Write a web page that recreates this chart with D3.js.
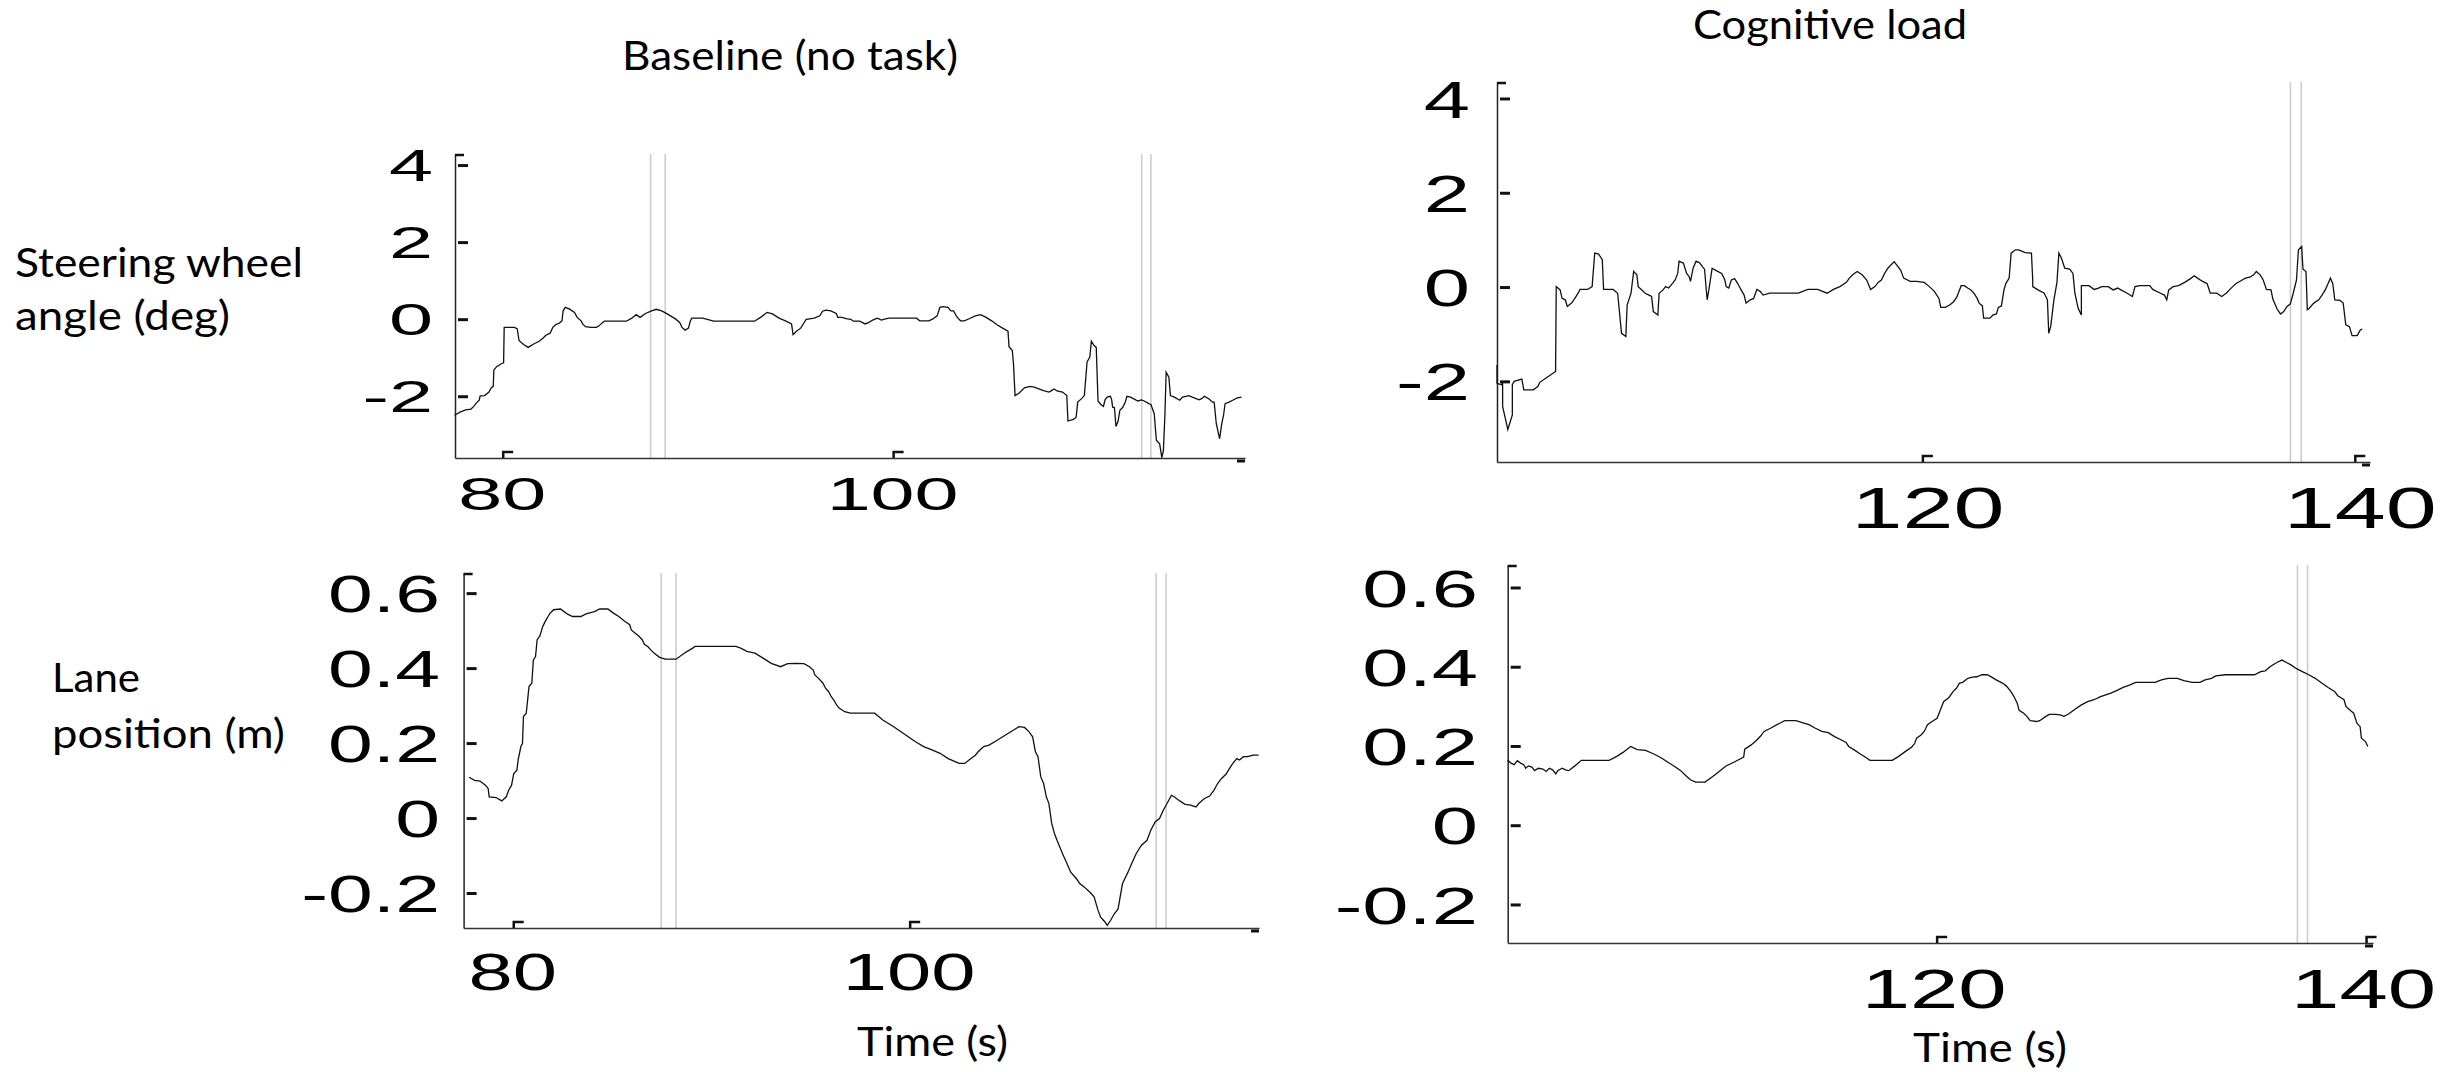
<!DOCTYPE html>
<html><head><meta charset="utf-8">
<script src="https://cdn.jsdelivr.net/npm/d3@7"></script>
<style>html,body{margin:0;padding:0;background:#fff;overflow:hidden}</style>
</head><body>
<svg id="chart" width="2453" height="1072" xmlns="http://www.w3.org/2000/svg"></svg>
<script>
// ---------------- DATA ----------------
const steerTicks = [-2, 0, 2, 4];
const laneTicks = [-0.2, 0, 0.2, 0.4, 0.6];
const timeTicksBaseline = [80, 100];
const timeTicksCognitive = [120, 140];

const markersSteerBaseline = [87.55, 88.3, 112.71, 113.18];
const markersLaneBaseline = [87.44, 88.19, 112.41, 112.91];
const markersSteerCognitive = [137.0, 137.5];
const markersLaneCognitive = [136.78, 137.25];

const steerBaseline = [[77.51,-2.48],[77.79,-2.40],[78.07,-2.34],[78.35,-2.32],[78.49,-2.25],[78.63,-2.16],[78.77,-2.09],[78.82,-1.98],[79.05,-1.97],[79.27,-1.88],[79.38,-1.77],[79.49,-1.73],[79.52,-1.31],[79.66,-1.22],[79.88,-1.15],[80.02,-1.12],[80.05,-0.20],[80.36,-0.20],[80.58,-0.20],[80.72,-0.24],[80.81,-0.54],[81.06,-0.65],[81.28,-0.72],[81.56,-0.63],[81.84,-0.56],[82.06,-0.47],[82.17,-0.41],[82.40,-0.35],[82.54,-0.20],[82.68,-0.13],[82.87,-0.09],[83.01,-0.03],[83.07,0.23],[83.18,0.32],[83.38,0.28],[83.65,0.19],[83.79,0.06],[83.99,-0.03],[84.07,-0.11],[84.21,-0.18],[84.49,-0.20],[84.77,-0.20],[84.91,-0.16],[85.05,-0.09],[85.19,-0.04],[85.75,-0.04],[86.31,-0.04],[86.59,0.04],[86.81,0.13],[87.01,0.06],[87.29,0.16],[87.57,0.22],[87.84,0.27],[88.12,0.23],[88.40,0.15],[88.82,0.02],[89.04,-0.07],[89.16,-0.20],[89.32,-0.27],[89.49,-0.22],[89.58,-0.04],[89.66,0.04],[90.22,0.04],[90.78,-0.04],[91.90,-0.04],[92.87,-0.04],[93.24,0.08],[93.52,0.19],[93.79,0.15],[94.13,0.04],[94.46,-0.03],[94.77,-0.11],[94.85,-0.39],[95.02,-0.30],[95.24,-0.22],[95.41,-0.08],[95.52,0.01],[95.94,0.04],[96.22,0.10],[96.36,0.22],[96.53,0.25],[96.78,0.23],[97.06,0.16],[97.14,0.06],[97.34,0.06],[97.62,0.02],[97.81,0.01],[97.93,-0.04],[98.26,-0.04],[98.54,-0.11],[98.74,-0.07],[98.93,-0.01],[99.16,0.04],[99.38,-0.01],[99.58,0.02],[99.77,0.04],[101.17,0.04],[101.34,-0.03],[101.81,-0.03],[102.01,0.02],[102.23,0.10],[102.37,0.32],[102.51,0.34],[102.79,0.32],[102.93,0.23],[103.07,0.23],[103.21,0.10],[103.35,0.01],[103.43,-0.03],[103.62,-0.03],[103.90,0.03],[104.18,0.10],[104.46,0.13],[104.74,0.06],[105.02,-0.03],[105.30,-0.13],[105.58,-0.22],[105.86,-0.30],[105.91,-0.70],[106.08,-0.80],[106.14,-1.15],[106.22,-1.97],[106.42,-1.91],[106.70,-1.77],[106.98,-1.73],[107.20,-1.75],[107.40,-1.79],[107.68,-1.84],[107.96,-1.88],[108.09,-1.84],[108.23,-1.80],[108.37,-1.85],[108.65,-1.88],[108.87,-1.97],[108.93,-2.63],[109.21,-2.59],[109.35,-2.53],[109.43,-2.14],[109.63,-2.05],[109.77,-1.97],[109.91,-1.10],[110.05,-0.97],[110.13,-0.56],[110.27,-0.67],[110.38,-0.72],[110.47,-2.11],[110.61,-2.20],[110.75,-2.25],[110.83,-2.08],[110.94,-2.01],[111.11,-1.99],[111.17,-2.08],[111.22,-2.27],[111.31,-2.28],[111.39,-2.77],[111.50,-2.63],[111.59,-2.35],[111.73,-2.28],[111.87,-2.14],[111.95,-1.99],[112.14,-2.01],[112.28,-2.05],[112.51,-2.11],[112.70,-2.08],[112.84,-2.11],[113.07,-2.18],[113.18,-2.20],[113.35,-2.44],[113.46,-3.13],[113.63,-3.23],[113.74,-3.58],[113.82,-3.39],[113.90,-2.44],[113.96,-1.36],[114.10,-1.49],[114.18,-1.97],[114.38,-2.01],[114.66,-2.09],[114.80,-2.01],[115.13,-1.97],[115.30,-2.01],[115.50,-2.05],[115.64,-2.08],[115.78,-2.05],[115.92,-1.99],[116.14,-2.05],[116.34,-2.14],[116.42,-2.14],[116.53,-2.70],[116.70,-3.09],[116.81,-2.70],[116.90,-2.48],[116.98,-2.18],[117.18,-2.14],[117.37,-2.09],[117.60,-2.03],[117.82,-2.01]];

const steerCognitive = [[100.30,-1.64],[100.30,-2.03],[100.50,-2.06],[100.56,-2.03],[100.56,-2.52],[100.80,-3.01],[101.01,-2.70],[101.01,-2.06],[101.09,-1.99],[101.45,-1.94],[101.54,-2.17],[101.98,-2.17],[102.19,-2.10],[102.28,-2.01],[102.57,-1.92],[103.01,-1.78],[103.04,0.02],[103.22,-0.05],[103.31,-0.23],[103.46,-0.26],[103.55,-0.40],[103.75,-0.33],[103.90,-0.23],[104.05,-0.12],[104.14,-0.04],[104.49,-0.04],[104.70,0.02],[104.82,0.73],[105.00,0.71],[105.17,0.59],[105.23,-0.04],[105.67,-0.04],[105.88,-0.12],[106.06,-0.97],[106.26,-1.04],[106.32,-0.37],[106.50,-0.12],[106.62,0.34],[106.77,0.27],[106.83,0.02],[107.00,-0.05],[107.15,-0.12],[107.33,-0.16],[107.45,-0.19],[107.53,-0.51],[107.74,-0.58],[107.80,-0.12],[107.98,-0.05],[108.10,0.02],[108.24,-0.01],[108.42,0.09],[108.54,0.16],[108.66,0.30],[108.72,0.56],[108.92,0.52],[109.07,0.30],[109.19,0.23],[109.25,0.13],[109.37,0.41],[109.51,0.56],[109.66,0.53],[109.81,0.44],[109.90,0.39],[110.02,-0.26],[110.10,-0.05],[110.25,0.41],[110.40,0.37],[110.69,0.30],[110.84,0.16],[110.90,0.02],[111.02,-0.01],[111.14,0.16],[111.29,0.19],[111.43,0.09],[111.58,-0.04],[111.73,-0.16],[111.82,-0.33],[112.02,-0.26],[112.17,-0.23],[112.32,-0.04],[112.47,-0.08],[112.61,-0.16],[112.91,-0.12],[113.50,-0.12],[114.24,-0.12],[114.68,-0.04],[115.13,-0.04],[115.57,-0.12],[115.86,-0.04],[116.16,0.02],[116.46,0.11],[116.60,0.20],[116.75,0.27],[116.96,0.34],[117.19,0.27],[117.40,0.16],[117.58,-0.04],[117.78,0.02],[117.93,0.11],[118.08,0.16],[118.23,0.30],[118.38,0.41],[118.52,0.48],[118.67,0.55],[118.82,0.46],[118.97,0.37],[119.11,0.20],[119.41,0.13],[119.70,0.13],[120.06,0.11],[120.30,0.02],[120.53,-0.08],[120.74,-0.23],[120.83,-0.42],[121.03,-0.42],[121.24,-0.37],[121.42,-0.30],[121.57,-0.20],[121.77,0.04],[121.92,0.04],[122.07,-0.01],[122.22,-0.05],[122.36,-0.12],[122.51,-0.23],[122.60,-0.33],[122.75,-0.39],[122.81,-0.65],[123.10,-0.65],[123.25,-0.58],[123.40,-0.56],[123.49,-0.42],[123.63,-0.39],[123.75,-0.05],[123.84,0.09],[123.99,0.20],[124.08,0.73],[124.28,0.80],[124.43,0.80],[124.73,0.74],[125.02,0.73],[125.08,0.16],[125.08,0.02],[125.32,-0.05],[125.61,-0.12],[125.76,-0.26],[125.82,-0.97],[125.91,-0.83],[126.06,-0.26],[126.20,0.11],[126.29,0.73],[126.41,0.62],[126.56,0.41],[126.79,0.39],[126.94,0.30],[127.03,-0.12],[127.18,-0.44],[127.33,-0.58],[127.33,0.04],[127.68,0.04],[127.92,-0.04],[128.12,-0.01],[128.27,0.02],[128.57,0.02],[128.80,-0.05],[129.01,-0.01],[129.16,-0.05],[129.45,-0.12],[129.69,-0.19],[129.81,0.02],[130.04,0.04],[130.49,0.04],[130.63,-0.04],[130.99,-0.12],[131.17,-0.16],[131.28,-0.26],[131.37,-0.05],[131.58,0.02],[131.82,0.04],[132.11,0.11],[132.41,0.20],[132.55,0.25],[132.70,0.20],[132.94,0.13],[133.15,0.08],[133.29,-0.12],[133.59,-0.12],[133.82,-0.19],[134.03,-0.12],[134.18,-0.05],[134.33,0.02],[134.47,0.08],[134.77,0.16],[134.92,0.20],[135.12,0.22],[135.30,0.27],[135.42,0.34],[135.60,0.27],[135.74,0.16],[135.89,-0.04],[136.10,-0.05],[136.19,-0.25],[136.39,-0.46],[136.54,-0.56],[136.69,-0.51],[136.84,-0.40],[136.99,-0.35],[137.13,-0.12],[137.28,0.16],[137.37,0.80],[137.52,0.87],[137.58,0.39],[137.72,0.34],[137.78,-0.47],[137.87,-0.44],[138.08,-0.33],[138.31,-0.26],[138.46,-0.16],[138.61,-0.05],[138.85,0.20],[138.96,0.08],[139.05,-0.26],[139.29,-0.27],[139.44,-0.33],[139.56,-0.79],[139.73,-0.83],[139.85,-1.02],[140.09,-1.02],[140.23,-0.90],[140.32,-0.88]];

const laneBaseline = [[77.75,0.110],[78.02,0.102],[78.30,0.100],[78.57,0.089],[78.71,0.080],[78.76,0.058],[79.12,0.056],[79.26,0.051],[79.40,0.047],[79.62,0.058],[79.75,0.076],[79.89,0.089],[80.00,0.120],[80.16,0.129],[80.22,0.156],[80.36,0.192],[80.44,0.200],[80.49,0.272],[80.63,0.281],[80.77,0.352],[80.91,0.361],[80.99,0.423],[81.10,0.432],[81.18,0.477],[81.32,0.487],[81.46,0.512],[81.59,0.526],[81.73,0.539],[81.81,0.546],[82.01,0.557],[82.36,0.559],[82.69,0.546],[82.97,0.539],[83.38,0.539],[83.65,0.546],[83.93,0.550],[84.07,0.552],[84.34,0.559],[84.75,0.559],[85.03,0.548],[85.30,0.539],[85.58,0.527],[85.85,0.517],[85.93,0.503],[86.13,0.494],[86.32,0.486],[86.48,0.477],[86.59,0.465],[86.76,0.459],[86.95,0.448],[87.09,0.441],[87.36,0.430],[87.64,0.425],[88.19,0.425],[88.60,0.441],[89.01,0.454],[89.15,0.459],[90.11,0.459],[91.21,0.459],[91.48,0.454],[91.76,0.446],[92.17,0.441],[92.58,0.428],[92.99,0.414],[93.46,0.405],[93.82,0.413],[94.23,0.414],[94.64,0.413],[94.92,0.405],[95.11,0.396],[95.19,0.383],[95.38,0.374],[95.60,0.361],[95.74,0.347],[95.88,0.339],[96.02,0.325],[96.15,0.316],[96.29,0.303],[96.43,0.294],[96.70,0.285],[96.98,0.281],[97.53,0.281],[98.21,0.281],[98.62,0.263],[99.17,0.245],[99.72,0.225],[100.27,0.205],[100.68,0.192],[101.10,0.183],[101.51,0.174],[101.92,0.160],[102.47,0.147],[102.75,0.147],[103.02,0.158],[103.29,0.169],[103.43,0.178],[103.71,0.192],[103.98,0.196],[104.39,0.209],[104.81,0.223],[105.22,0.236],[105.49,0.245],[105.77,0.243],[105.99,0.232],[106.18,0.218],[106.32,0.178],[106.45,0.165],[106.59,0.111],[106.73,0.094],[106.87,0.058],[107.00,0.040],[107.14,-0.013],[107.28,-0.040],[107.41,-0.058],[107.55,-0.076],[107.69,-0.094],[107.91,-0.120],[108.10,-0.143],[108.38,-0.160],[108.57,-0.174],[108.79,-0.183],[109.06,-0.196],[109.28,-0.209],[109.48,-0.245],[109.61,-0.263],[109.83,-0.276],[109.94,-0.285],[110.11,-0.272],[110.30,-0.254],[110.49,-0.241],[110.71,-0.174],[110.99,-0.143],[111.21,-0.116],[111.40,-0.094],[111.67,-0.071],[111.95,-0.058],[112.14,-0.031],[112.36,-0.009],[112.58,0.000],[112.77,0.022],[112.96,0.040],[113.18,0.062],[113.32,0.058],[113.60,0.047],[113.87,0.038],[114.15,0.036],[114.42,0.031],[114.56,0.040],[114.83,0.053],[115.11,0.060],[115.33,0.076],[115.52,0.094],[115.71,0.107],[115.93,0.118],[116.21,0.142],[116.34,0.151],[116.48,0.160],[116.62,0.156],[116.81,0.165],[117.03,0.165],[117.30,0.169],[117.58,0.169]];

const laneCognitive = [[100.00,0.165],[100.15,0.158],[100.30,0.154],[100.45,0.164],[100.60,0.158],[100.75,0.154],[100.84,0.145],[100.96,0.151],[101.13,0.148],[101.25,0.139],[101.43,0.145],[101.64,0.143],[101.79,0.137],[101.94,0.145],[102.09,0.141],[102.24,0.131],[102.33,0.139],[102.54,0.145],[102.69,0.141],[102.84,0.139],[103.13,0.151],[103.43,0.165],[104.03,0.165],[104.72,0.165],[105.08,0.175],[105.37,0.185],[105.73,0.200],[106.03,0.192],[106.42,0.190],[106.81,0.181],[107.16,0.171],[107.46,0.160],[107.76,0.150],[108.06,0.139],[108.30,0.126],[108.51,0.116],[108.75,0.110],[109.19,0.110],[109.55,0.124],[109.85,0.137],[110.15,0.150],[110.60,0.162],[110.99,0.173],[111.04,0.193],[111.34,0.204],[111.58,0.215],[111.79,0.227],[111.94,0.238],[112.24,0.246],[112.54,0.255],[112.90,0.265],[113.43,0.265],[113.79,0.259],[114.03,0.255],[114.33,0.246],[114.63,0.238],[114.93,0.235],[115.22,0.225],[115.52,0.217],[115.76,0.210],[115.88,0.200],[116.12,0.192],[116.42,0.181],[116.72,0.171],[116.87,0.165],[117.91,0.165],[118.21,0.175],[118.51,0.187],[118.81,0.198],[118.96,0.208],[119.04,0.221],[119.25,0.229],[119.40,0.238],[119.55,0.255],[119.76,0.263],[120.00,0.271],[120.15,0.292],[120.30,0.313],[120.54,0.323],[120.75,0.339],[120.90,0.347],[121.04,0.360],[121.19,0.362],[121.43,0.372],[121.64,0.375],[121.85,0.376],[122.09,0.381],[122.33,0.381],[122.54,0.375],[122.75,0.368],[123.04,0.360],[123.22,0.353],[123.43,0.339],[123.58,0.326],[123.73,0.309],[123.82,0.291],[124.03,0.284],[124.18,0.276],[124.33,0.265],[124.63,0.263],[124.78,0.265],[125.01,0.274],[125.22,0.281],[125.52,0.281],[125.73,0.280],[125.91,0.276],[126.12,0.282],[126.42,0.294],[126.72,0.305],[127.01,0.313],[127.31,0.318],[127.61,0.326],[128.06,0.334],[128.36,0.341],[128.66,0.349],[128.96,0.355],[129.25,0.362],[129.55,0.362],[130.15,0.362],[130.45,0.368],[130.75,0.372],[131.19,0.372],[131.49,0.366],[131.88,0.362],[132.24,0.362],[132.48,0.368],[132.78,0.372],[132.98,0.378],[133.43,0.381],[134.03,0.381],[134.78,0.381],[135.07,0.389],[135.28,0.391],[135.52,0.402],[135.82,0.412],[136.06,0.418],[136.27,0.412],[136.48,0.406],[136.72,0.397],[137.01,0.389],[137.31,0.381],[137.61,0.372],[137.91,0.360],[138.21,0.349],[138.51,0.339],[138.66,0.328],[138.95,0.318],[139.04,0.301],[139.25,0.291],[139.40,0.284],[139.55,0.259],[139.70,0.250],[139.76,0.221],[139.94,0.213],[140.06,0.200]];

// ---------------- LAYOUT ----------------
const svg = d3.select("#chart");
svg.append("rect").attr("width", 2453).attr("height", 1072).attr("fill", "#fff");

const panels = [
  { data: steerBaseline, markers: markersSteerBaseline, yTicks: steerTicks, xTicks: timeTicksBaseline,
    box: {l: 455, r: 1245, t: 154, b: 458}, xDom: [77.53, 118.0], yDom: [-3.59, 4.30],
    yLab: {fs: 44, sx: 1.8, edge: 433}, xLab: {fs: 46, sx: 1.72, base: 510, dx: -1} },
  { data: steerCognitive, markers: markersSteerCognitive, yTicks: steerTicks, xTicks: timeTicksCognitive,
    box: {l: 1497, r: 2370, t: 82, b: 462}, xDom: [100.3, 140.68], yDom: [-3.70, 4.36],
    yLab: {fs: 52, sx: 1.6, edge: 1470}, xLab: {fs: 58, sx: 1.58, base: 528, dx: 5} },
  { data: laneBaseline, markers: markersLaneBaseline, yTicks: laneTicks, xTicks: timeTicksBaseline,
    box: {l: 463.6, r: 1259, t: 573, b: 928}, xDom: [77.47, 117.6], yDom: [-0.292, 0.655],
    yLab: {fs: 51, sx: 1.58, edge: 440}, xLab: {fs: 52, sx: 1.53, base: 990, dx: -1} },
  { data: laneCognitive, markers: markersLaneCognitive, yTicks: laneTicks, xTicks: timeTicksCognitive,
    box: {l: 1507.7, r: 2373, t: 565, b: 943}, xDom: [100.0, 140.3], yDom: [-0.296, 0.658],
    yLab: {fs: 52, sx: 1.6, edge: 1478}, xLab: {fs: 55, sx: 1.58, base: 1008, dx: -3} }
];

const fmt = v => String(+v.toFixed(1));

panels.forEach(p => {
  const B = p.box;
  const x = d3.scaleLinear().domain(p.xDom).range([B.l, B.r]);
  const y = d3.scaleLinear().domain(p.yDom).range([B.b, B.t]);
  const g = svg.append("g");

  // event marker lines (double thin grey)
  g.selectAll("line.marker").data(p.markers).join("line")
    .attr("class", "marker")
    .attr("x1", d => x(d)).attr("x2", d => x(d))
    .attr("y1", B.t).attr("y2", B.b)
    .attr("stroke", "#cdcdcd").attr("stroke-width", 1.6);

  // axes lines via d3 axes (no ticks), custom tick marks below
  g.append("g").attr("transform", `translate(${B.l},0)`)
    .call(d3.axisLeft(y).tickValues([]).tickSizeOuter(0))
    .select(".domain").attr("stroke", "#222").attr("stroke-width", 1.5);
  g.append("g").attr("transform", `translate(0,${B.b})`)
    .call(d3.axisBottom(x).tickValues([]).tickSizeOuter(0))
    .select(".domain").attr("stroke", "#333").attr("stroke-width", 1.6);

  // y tick dashes
  g.selectAll("line.ytick").data(p.yTicks).join("line")
    .attr("class", "ytick")
    .attr("x1", B.l + 3).attr("x2", B.l + 13)
    .attr("y1", d => y(d)).attr("y2", d => y(d))
    .attr("stroke", "#111").attr("stroke-width", 3);
  // top bracket
  g.append("line").attr("x1", B.l).attr("x2", B.l + 9).attr("y1", B.t + 1).attr("y2", B.t + 1)
    .attr("stroke", "#111").attr("stroke-width", 2.5);

  // x tick marks (corner shape)
  g.selectAll("path.xtick").data(p.xTicks).join("path")
    .attr("class", "xtick")
    .attr("d", d => `M${x(d)},${B.b} V${B.b - 6} H${x(d) + 10}`)
    .attr("fill", "none").attr("stroke", "#111").attr("stroke-width", 2.5);
  // end dash
  g.append("line").attr("x1", B.r - 8).attr("x2", B.r).attr("y1", B.b + 3).attr("y2", B.b + 3)
    .attr("stroke", "#111").attr("stroke-width", 3);

  // y tick labels (stretched horizontally like the source)
  g.selectAll("text.ylab").data(p.yTicks).join("text")
    .attr("class", "ylab")
    .attr("transform", d => `translate(${p.yLab.edge},${y(d) + 0.358 * p.yLab.fs}) scale(${p.yLab.sx},1)`)
    .attr("text-anchor", "end")
    .attr("font-family", "'Liberation Sans', Arial, sans-serif")
    .attr("font-size", p.yLab.fs)
    .attr("fill", "#000")
    .text(fmt);

  // x tick labels
  g.selectAll("text.xlab").data(p.xTicks).join("text")
    .attr("class", "xlab")
    .attr("transform", d => `translate(${x(d) + p.xLab.dx},${p.xLab.base}) scale(${p.xLab.sx},1)`)
    .attr("text-anchor", "middle")
    .attr("font-family", "'Liberation Sans', Arial, sans-serif")
    .attr("font-size", p.xLab.fs)
    .attr("fill", "#000")
    .text(d => d);

  // data line
  const line = d3.line().x(d => x(d[0])).y(d => y(d[1]));
  g.append("path").datum(p.data)
    .attr("d", line)
    .attr("fill", "none").attr("stroke", "#111").attr("stroke-width", 1.3)
    .attr("stroke-linejoin", "miter");
});

// ---------------- TEXT LABELS ----------------
const labels = [
  {t: "Baseline (no task)", x: 622, y: 70, w: 336},
  {t: "Cognitive load", x: 1693, y: 39, w: 274},
  {t: "Steering wheel", x: 15, y: 277, w: 288},
  {t: "angle (deg)", x: 15, y: 330, w: 215},
  {t: "Lane", x: 52, y: 692, w: 88},
  {t: "position (m)", x: 52, y: 748, w: 233},
  {t: "Time (s)", x: 857, y: 1056, w: 151},
  {t: "Time (s)", x: 1913, y: 1062, w: 154}
];
svg.selectAll("text.lbl").data(labels).join("text")
  .attr("class", "lbl")
  .attr("x", d => d.x).attr("y", d => d.y)
  .attr("textLength", d => d.w).attr("lengthAdjust", "spacingAndGlyphs")
  .attr("font-family", "Lato, 'Open Sans', sans-serif")
  .attr("font-size", 41)
  .attr("fill", "#000")
  .text(d => d.t);
</script>
</body></html>
